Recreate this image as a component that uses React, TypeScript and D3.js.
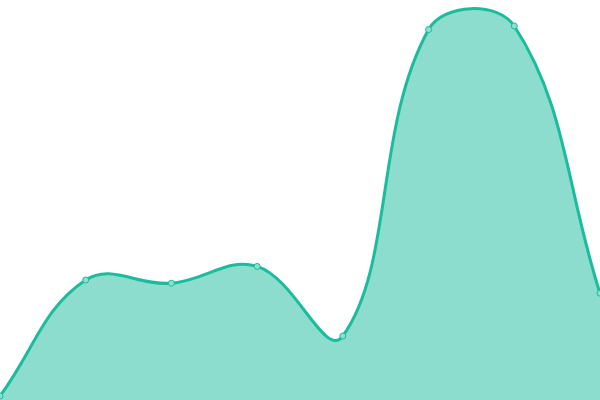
import React, { useEffect, useRef } from "react";
import * as d3 from "d3";

const categories = ["A", "B", "C", "D", "E", "F", "G", "H"];
const values = [1, 30, 29.2, 33.4, 16, 92.6, 93.5, 26.7];

const width = 600;
const height = 400;

// spline with distance-weighted control points (tension 0.4)
class SoftSpline {
  ctx: any;
  pts: [number, number][] = [];
  constructor(ctx: any) {
    this.ctx = ctx;
  }
  areaStart() {}
  areaEnd() {}
  lineStart() {
    this.pts = [];
  }
  point(x: number, y: number) {
    this.pts.push([+x, +y]);
  }
  lineEnd() {
    const p = this.pts;
    const t = 0.4;
    const ctrl = p.map((cur, i) => {
      const prev = p[i - 1] || cur;
      const next = p[i + 1] || cur;
      const d01 = Math.hypot(cur[0] - prev[0], cur[1] - prev[1]);
      const d12 = Math.hypot(next[0] - cur[0], next[1] - cur[1]);
      let s01 = d01 / (d01 + d12);
      let s12 = d12 / (d01 + d12);
      if (isNaN(s01)) s01 = 0;
      if (isNaN(s12)) s12 = 0;
      const fa = t * s01;
      const fb = t * s12;
      return {
        prev: [cur[0] - fa * (next[0] - prev[0]), cur[1] - fa * (next[1] - prev[1])],
        next: [cur[0] + fb * (next[0] - prev[0]), cur[1] + fb * (next[1] - prev[1])],
      };
    });
    p.forEach((pt, i) => {
      if (i === 0) this.ctx.moveTo(pt[0], pt[1]);
      else {
        const a = ctrl[i - 1].next;
        const b = ctrl[i].prev;
        this.ctx.bezierCurveTo(a[0], a[1], b[0], b[1], pt[0], pt[1]);
      }
    });
  }
}

const App: React.FC = () => {
  const svgRef = useRef<SVGSVGElement | null>(null);

  useEffect(() => {
    if (!svgRef.current) return;
    const svg = d3.select(svgRef.current);
    svg.selectAll("*").remove();

    const x = d3.scalePoint<string>().domain(categories).range([0, width]);
    const y = d3.scaleLinear().domain([0, 100]).range([height, 0]);

    const line = d3
      .line<number>()
      .x((_, i) => x(categories[i]) as number)
      .y((d) => y(d))
      .curve((ctx: any) => new SoftSpline(ctx) as any);

    const linePath = line(values) || "";

    svg
      .append("path")
      .attr("d", `${linePath}L${width},${y(0)}L0,${y(0)}Z`)
      .attr("fill", "rgba(26,188,156,0.5)");

    svg
      .append("path")
      .attr("d", linePath)
      .attr("fill", "none")
      .attr("stroke", "#1abc9c")
      .attr("stroke-width", 3);

    svg
      .selectAll("circle")
      .data(values)
      .enter()
      .append("circle")
      .attr("cx", (_, i) => x(categories[i]) as number)
      .attr("cy", (d) => y(d))
      .attr("r", 3)
      .attr("fill", "#8de0d0")
      .attr("stroke", "#1abc9c")
      .attr("stroke-width", 1);
  }, []);

  return (
    <svg
      ref={svgRef}
      width={width}
      height={height}
      style={{ position: "fixed", left: 0, top: 0, background: "#fff" }}
    ></svg>
  );
};

export default App;
